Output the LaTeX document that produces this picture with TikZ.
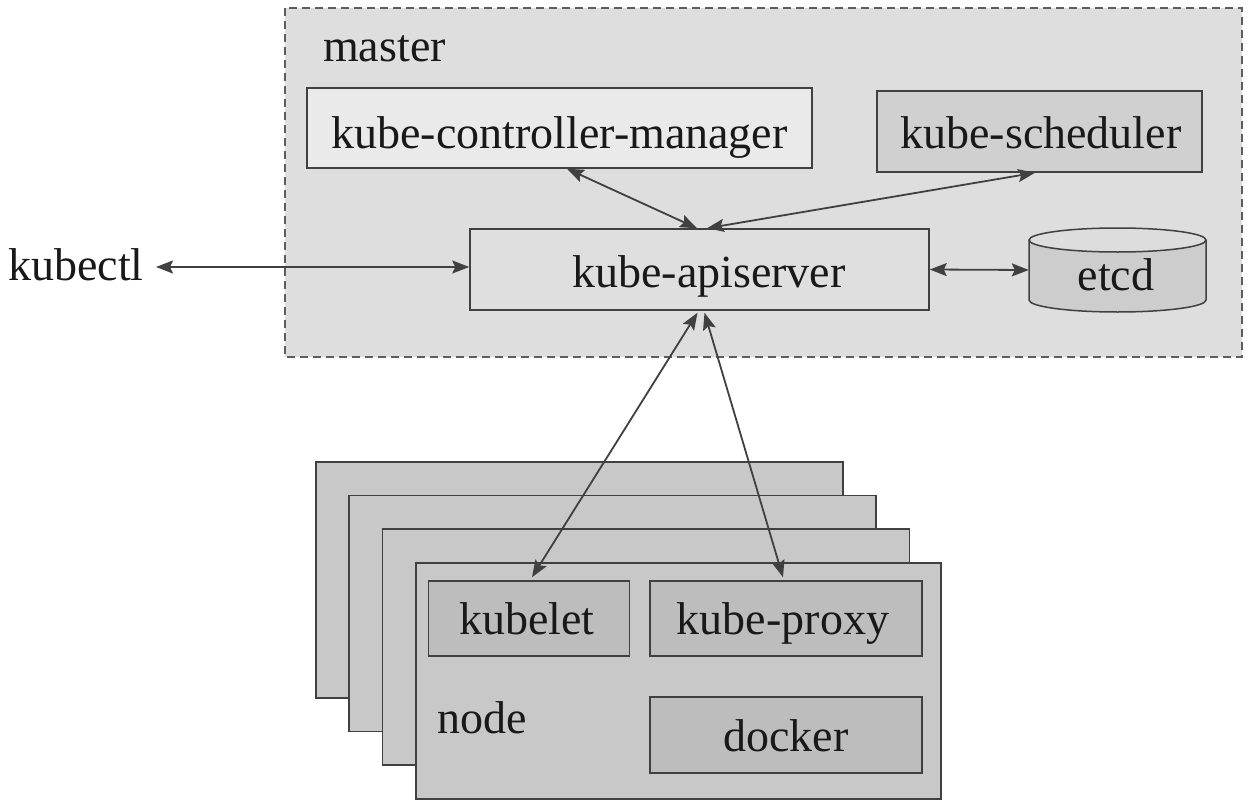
\documentclass[tikz,border=0pt]{standalone}
\usepackage{fontspec}
\setmainfont{Liberation Serif}
\newfontfamily\diagramfont{Liberation Serif}
\usetikzlibrary{arrows.meta,calc}

\definecolor{linec}{HTML}{404040}
\definecolor{masterbg}{HTML}{DEDEDE}
\definecolor{ctrlfill}{HTML}{EAEAEA}
\definecolor{schedfill}{HTML}{D0D0D0}
\definecolor{apifill}{HTML}{DFDFDF}
\definecolor{etcdbody}{HTML}{CDCDCD}
\definecolor{etcdtop}{HTML}{DDDDDD}
\definecolor{stackfill}{HTML}{C8C8C8}
\definecolor{innerfill}{HTML}{BDBDBD}

\tikzset{
  x=1pt, y=-1pt,
  label font/.style={font=\diagramfont\fontsize{46}{50}\selectfont, text=black!90},
  compbox/.style={draw=linec, line width=1.5pt, inner sep=0pt, label font},
  stackbox/.style={draw=linec, line width=1.5pt, fill=stackfill},
  link/.style={draw=linec, line width=1.8pt, {Stealth[length=17pt,width=13pt,inset=3pt]}-{Stealth[length=17pt,width=13pt,inset=3pt]}},
}

\begin{document}
\begin{tikzpicture}
\useasboundingbox (0,0) rectangle (1248,808);

% master region
\fill[masterbg] (285,8) rectangle (1242,357);
\draw[linec!85, line width=1.5pt, dash pattern=on 8pt off 5pt] (285,8) rectangle (1242,357);
\node[label font, anchor=base west, inner sep=0pt] (mastertxt) at (323,62) {master};

% master components
\node[compbox, fill=ctrlfill, minimum width=505pt, minimum height=80pt] (ctrl) at (559.5,128) {};
\node[label font, inner sep=0pt, anchor=base] (ctrltxt) at (559.5,148) {kube-controller-manager};
\node[compbox, fill=schedfill, minimum width=325pt, minimum height=81pt] (sched) at (1039.5,131.5) {};
\node[label font, inner sep=0pt, anchor=base] (schedtxt) at (1041,148) {kube-scheduler};
\node[compbox, fill=apifill, minimum width=459pt, minimum height=81pt] (api) at (699.5,269.5) {};
\node[label font, inner sep=0pt, anchor=base] (apitxt) at (709,287) {kube-apiserver};

% etcd as a cylinder
\fill[etcdbody] (1029,240) -- (1029,300) arc[start angle=180, end angle=360, x radius=88.5pt, y radius=12pt] -- (1206,240) -- cycle;
\fill[etcdtop] (1117.5,240) ellipse[x radius=88.5pt, y radius=12pt];
\draw[linec, line width=1.5pt] (1029,240) -- (1029,300) arc[start angle=180, end angle=360, x radius=88.5pt, y radius=12pt] -- (1206,240);
\draw[linec, line width=1.5pt] (1117.5,240) ellipse[x radius=88.5pt, y radius=12pt];
\node[inner sep=0pt, minimum width=177pt, minimum height=84pt] (etcd) at (1117.5,270) {};
\node[label font, inner sep=0pt, anchor=base] (etcdtxt) at (1116,290) {etcd};

% client
\node[label font, anchor=base west, inner sep=0pt] (kubectl) at (8,280) {kubectl};
\coordinate (kubectlend) at (156,267);

% worker nodes, stacked back to front
\node[stackbox, minimum width=527pt, minimum height=236pt, anchor=north west] (nodeA) at (315,461) {};
\node[stackbox, minimum width=527pt, minimum height=236pt, anchor=north west] (nodeB) at (348.3,494.7) {};
\node[stackbox, minimum width=527pt, minimum height=236pt, anchor=north west] (nodeC) at (381.7,528.3) {};
\node[stackbox, minimum width=525pt, minimum height=236pt, anchor=north west] (nodeD) at (415,562) {};
\node[label font, anchor=base west, inner sep=0pt] (nodetxt) at (437,733) {node};

\node[compbox, fill=innerfill, minimum width=201pt, minimum height=75pt] (kubelet) at (529,618.5) {};
\node[label font, inner sep=0pt, anchor=base] (kubelettxt) at (527,634) {kubelet};
\node[compbox, fill=innerfill, minimum width=272pt, minimum height=75pt] (proxy) at (786,618.5) {};
\node[label font, inner sep=0pt, anchor=base] (proxytxt) at (783,634) {kube-proxy};
\node[compbox, fill=innerfill, minimum width=272pt, minimum height=76pt] (docker) at (786,735) {};
\node[label font, inner sep=0pt, anchor=base] (dockertxt) at (786,751) {docker};

% connections
\draw[link] (kubectlend) -- (api.west |- kubectlend);
\draw[link] (api.east) -- (etcd.west);
\draw[link] ([xshift=7.5pt]ctrl.south) -- ([xshift=-2.5pt]api.north);
\draw[link] ([xshift=-4.5pt]sched.south) -- ([xshift=7.5pt]api.north);
\draw[link] ([xshift=-2pt,yshift=-2pt]api.south) -- ([xshift=3pt,yshift=3pt]kubelet.north);
\draw[link] ([xshift=5pt,yshift=-2pt]api.south) -- ([xshift=-3pt,yshift=3pt]proxy.north);
\end{tikzpicture}
\end{document}
